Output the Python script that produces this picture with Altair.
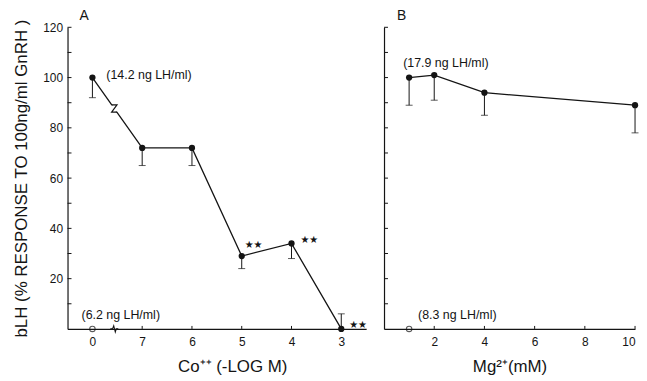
import json
import altair as alt
import pandas as pd

# ---------------- data ----------------
# Panel A: Co++ concentration (-log M), categorical positions
co_labels = ["0", "7", "6", "5", "4", "3"]
co_response = [100, 72, 72, 29, 34, 0]
co_error_end = [92, 65, 65, 24, 28, 6]
co_basal_idx = [0]
co_basal = [0]
co_top_note = "(14.2 ng LH/ml)"
co_basal_note = "(6.2 ng LH/ml)"
co_sig_idx = [3, 4, 5]
co_sig_text = ["★★", "★★", "★★"]
co_break_idx = [0.44]
co_break_resp = [87.7]

# Panel B: Mg2+ concentration (mM)
mg_conc = [1, 2, 4, 10]
mg_response = [100, 101, 94, 89]
mg_error_end = [89, 91, 85, 78]
mg_basal_conc = [1]
mg_basal = [0]
mg_top_note = "(17.9 ng LH/ml)"
mg_basal_note = "(8.3 ng LH/ml)"

y_label_values = [20, 40, 60, 80, 100, 120]
y_tick_values = [10, 20, 30, 40, 50, 60, 70, 80, 90, 100, 110, 120]
mg_x_values = [2, 4, 6, 8, 10]

# ---------------- style ----------------
INK = "#141414"
FONT = "Liberation Sans"
W_A, W_B, H = 301, 253, 304
TICK = 4

Z_SHAPE = "M -0.6 -0.8 L 0.6 -0.8 L -0.6 0.8 L 0.6 0.8"
AXIS_BREAK = "M -1 0 L -0.45 0 L -0.15 -0.8 L 0.25 0.8 L 0.5 0 L 1 0"

# ---------------- panel A ----------------
xA = alt.X(
    "x:Q",
    scale=alt.Scale(domain=[-0.5, 5.5], nice=False, zero=False),
    axis=alt.Axis(
        values=list(range(len(co_labels))),
        labelExpr=json.dumps(co_labels) + "[datum.value]",
        ticks=False, grid=False, labelPadding=8, titlePadding=11,
        titleX=166, titleAlign="center",
        title="Co⁺⁺  (-LOG M)",
    ),
)
yA = alt.Y(
    "y:Q",
    scale=alt.Scale(domain=[0, 120], nice=False),
    axis=alt.Axis(
        values=y_label_values, ticks=False, grid=False,
        labelPadding=5, titlePadding=12,
        title="bLH (% RESPONSE TO 100ng/ml GnRH )",
    ),
)

dfA = pd.DataFrame({"x": list(range(len(co_labels))), "y": co_response, "y2": co_error_end})
basalA = pd.DataFrame({"x": co_basal_idx, "y": co_basal})
ticksA_y = pd.DataFrame({"y": y_tick_values})
ticksA_x = pd.DataFrame({"x": list(range(1, len(co_labels)))})
breakA = pd.DataFrame({"x": co_break_idx, "y": co_break_resp})
axisbreakA = pd.DataFrame({"x": co_break_idx, "y": [0]})

lineA = alt.Chart(dfA).mark_line(color=INK, strokeWidth=1.3).encode(x=xA, y=yA)
errA = alt.Chart(dfA).mark_rule(color=INK, strokeWidth=1).encode(x=xA, y=yA, y2="y2:Q")
capA = alt.Chart(dfA).mark_tick(color=INK, orient="horizontal", size=7, thickness=1).encode(
    x=xA, y=alt.Y("y2:Q", scale=alt.Scale(domain=[0, 120], nice=False)))
ptsA = alt.Chart(dfA).mark_point(filled=True, color=INK, size=40, opacity=1).encode(x=xA, y=yA)
openA = alt.Chart(basalA).mark_point(filled=False, color=INK, size=30, strokeWidth=1.1).encode(x=xA, y=yA)
eraseA = alt.Chart(breakA).mark_point(shape="square", filled=True, color="white", size=40, opacity=1).encode(x=xA, y=yA)
zA = alt.Chart(breakA).mark_point(shape=Z_SHAPE, filled=False, color=INK, size=80, strokeWidth=1.2, opacity=1).encode(x=xA, y=yA)
axbA = alt.Chart(axisbreakA).mark_point(shape=AXIS_BREAK, filled=False, color=INK, size=64, strokeWidth=1.1, opacity=1).encode(x=xA, y=yA)
ytA = alt.Chart(ticksA_y).mark_rule(color=INK).encode(y=yA, x=alt.value(0), x2=alt.value(TICK))
xtA = alt.Chart(ticksA_x).mark_rule(color=INK).encode(x=xA, y=alt.value(H), y2=alt.value(H - 3))

topNoteA = alt.Chart(pd.DataFrame({"x": [0], "y": [100], "t": [co_top_note]})).mark_text(
    align="left", baseline="middle", dx=14, dy=-3, font=FONT, fontSize=12.5, color=INK
).encode(x=xA, y=yA, text="t:N")
basalNoteA = alt.Chart(pd.DataFrame({"x": co_basal_idx, "y": co_basal, "t": [co_basal_note]})).mark_text(
    align="left", baseline="middle", dx=-11, dy=-14, font=FONT, fontSize=12.5, color=INK
).encode(x=xA, y=yA, text="t:N")

sig_offsets = [(2, -11), (8, -3), (7, -4)]
sig_layers = []
for i, t, (ddx, ddy) in zip(co_sig_idx, co_sig_text, sig_offsets):
    d = pd.DataFrame({"x": [i], "y": [co_response[i]], "t": [t]})
    sig_layers.append(
        alt.Chart(d).mark_text(align="left", baseline="middle", dx=ddx + 1, dy=ddy,
                               font="DejaVu Sans", fontSize=10, color=INK)
        .encode(x=xA, y=yA, text="t:N")
    )

labelA = alt.Chart(pd.DataFrame({"t": ["A"]})).mark_text(
    align="left", baseline="middle", font=FONT, fontSize=14, color=INK
).encode(text="t:N", x=alt.value(12), y=alt.value(-11))

panelA = alt.layer(
    lineA, errA, capA, eraseA, zA, ptsA, openA, axbA, ytA, xtA,
    topNoteA, basalNoteA, *sig_layers, labelA
).properties(width=W_A, height=H)

# ---------------- panel B ----------------
xB = alt.X(
    "x:Q",
    scale=alt.Scale(domain=[0, 10], nice=False, zero=True),
    axis=alt.Axis(values=mg_x_values, ticks=False, grid=False,
                  labelPadding=8, titlePadding=11, title="Mg²⁺(mM)"),
)
yB = alt.Y(
    "y:Q",
    scale=alt.Scale(domain=[0, 120], nice=False),
    axis=alt.Axis(labels=False, ticks=False, grid=False, title=None),
)

dfB = pd.DataFrame({"x": mg_conc, "y": mg_response, "y2": mg_error_end})
basalB = pd.DataFrame({"x": mg_basal_conc, "y": mg_basal})
ticksB_y = pd.DataFrame({"y": y_tick_values})
ticksB_x = pd.DataFrame({"x": mg_x_values})

lineB = alt.Chart(dfB).mark_line(color=INK, strokeWidth=1.3).encode(x=xB, y=yB)
errB = alt.Chart(dfB).mark_rule(color=INK, strokeWidth=1).encode(x=xB, y=yB, y2="y2:Q")
capB = alt.Chart(dfB).mark_tick(color=INK, orient="horizontal", size=7, thickness=1).encode(
    x=xB, y=alt.Y("y2:Q", scale=alt.Scale(domain=[0, 120], nice=False)))
ptsB = alt.Chart(dfB).mark_point(filled=True, color=INK, size=40, opacity=1).encode(x=xB, y=yB)
openB = alt.Chart(basalB).mark_point(filled=False, color=INK, size=30, strokeWidth=1.1).encode(x=xB, y=yB)
ytB = alt.Chart(ticksB_y).mark_rule(color=INK).encode(y=yB, x=alt.value(0), x2=alt.value(TICK))
xtB = alt.Chart(ticksB_x).mark_rule(color=INK).encode(x=xB, y=alt.value(H), y2=alt.value(H - 3))

topNoteB = alt.Chart(pd.DataFrame({"x": [mg_conc[0]], "y": [mg_response[0]], "t": [mg_top_note]})).mark_text(
    align="left", baseline="middle", dx=-6, dy=-15, font=FONT, fontSize=12.5, color=INK
).encode(x=xB, y=yB, text="t:N")
basalNoteB = alt.Chart(pd.DataFrame({"x": mg_basal_conc, "y": mg_basal, "t": [mg_basal_note]})).mark_text(
    align="left", baseline="middle", dx=9, dy=-14, font=FONT, fontSize=12.5, color=INK
).encode(x=xB, y=yB, text="t:N")

labelB = alt.Chart(pd.DataFrame({"t": ["B"]})).mark_text(
    align="left", baseline="middle", font=FONT, fontSize=14, color=INK
).encode(text="t:N", x=alt.value(13), y=alt.value(-11))

panelB = alt.layer(
    lineB, errB, capB, ptsB, openB, ytB, xtB, topNoteB, basalNoteB, labelB
).properties(width=W_B, height=H)

chart = (
    alt.hconcat(panelA, panelB, spacing=16)
    .configure_view(stroke=None)
    .configure_axis(
        domainColor=INK, domainWidth=1.2,
        labelColor=INK, titleColor=INK,
        labelFont=FONT, titleFont=FONT,
        labelFontSize=12, titleFontSize=17, titleFontWeight="normal",
    )
    .properties(background="white", padding={"left": 4, "top": 0, "right": 0, "bottom": 0})
)

chart.save("out.html", embed_options={"renderer": "svg", "actions": False})
